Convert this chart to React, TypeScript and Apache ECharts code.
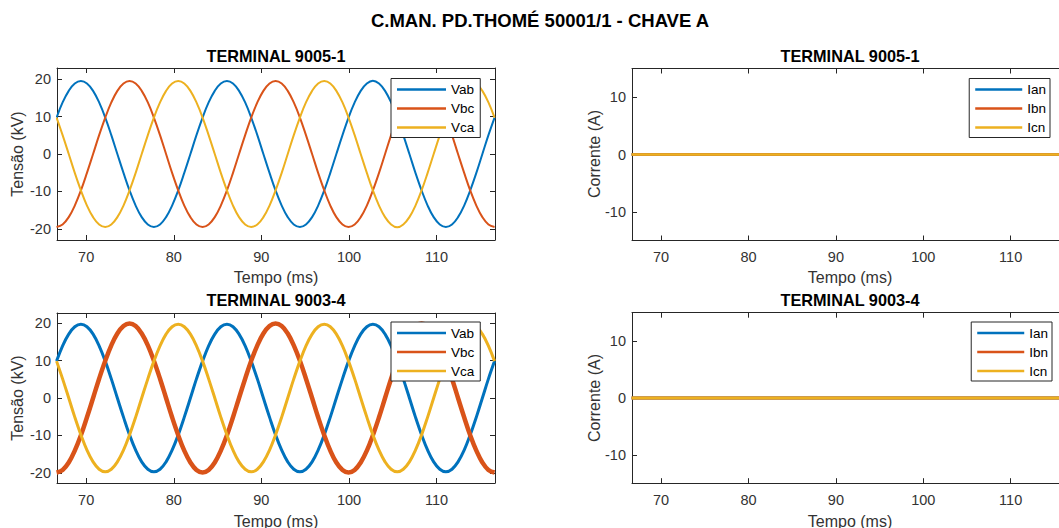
import React, { useEffect, useRef } from "react";
import * as echarts from "echarts";

// ---------- DATA ----------
const mainTitle = "C.MAN. PD.THOMÉ 50001/1 - CHAVE A";
const panelTitles = ["TERMINAL 9005-1", "TERMINAL 9005-1", "TERMINAL 9003-4", "TERMINAL 9003-4"];
const xTicks = [70, 80, 90, 100, 110];
const vTicks = [-20, -10, 0, 10, 20];
const iTicks = [-10, 0, 10];
const X_MIN = 66.67;
const X_MAX = 116.67;
// right-hand panels are cut by the figure edge: visible part ends here
const X_MAX_CUT = 115.53;

// sample times (ms)
const time = [
  66.62, 67.31, 68.01, 68.7, 69.4, 70.09, 70.79, 71.48, 72.18, 72.87, 73.56, 74.26,
  74.95, 75.65, 76.34, 77.04, 77.73, 78.43, 79.12, 79.81, 80.51, 81.2, 81.9, 82.59,
  83.29, 83.98, 84.68, 85.37, 86.07, 86.76, 87.45, 88.15, 88.84, 89.54, 90.23, 90.93,
  91.62, 92.32, 93.01, 93.7, 94.4, 95.09, 95.79, 96.48, 97.18, 97.87, 98.56, 99.26,
  99.95, 100.65, 101.34, 102.04, 102.73, 103.43, 104.12, 104.81, 105.51, 106.2, 106.9, 107.59,
  108.29, 108.98, 109.67, 110.37, 111.06, 111.76, 112.45, 113.15, 113.84, 114.54, 115.23, 115.92,
  116.62,
];

// TERMINAL 9005-1 voltages (kV)
const vab1 = [
  9.75, 13.79, 16.89, 18.84, 19.5, 18.84, 16.89, 13.79, 9.75, 5.05, 0, -5.05, -9.75, -13.79, -16.89, -18.84, -19.5, -18.84, -16.89, -13.79, -9.75, -5.05, 0, 5.05,
  9.75, 13.79, 16.89, 18.84, 19.5, 18.84, 16.89, 13.79, 9.75, 5.05, 0, -5.05, -9.75, -13.79, -16.89, -18.84, -19.5, -18.84, -16.89, -13.79, -9.75, -5.05, 0, 5.05,
  9.75, 13.79, 16.89, 18.84, 19.6, 18.84, 16.89, 13.79, 9.75, 5.05, 0, -5.05, -9.75, -13.79, -16.89, -18.84, -19.5, -18.84, -16.89, -13.79, -9.75, -5.05, 0, 5.05,
  9.75,
];
const vbc1 = [
  -19.5, -18.84, -16.89, -13.79, -9.75, -5.05, 0, 5.05, 9.75, 13.79, 16.89, 18.84, 19.5, 18.84, 16.89, 13.79, 9.75, 5.05, 0, -5.05, -9.75, -13.79, -16.89, -18.84,
  -19.5, -18.84, -16.89, -13.79, -9.75, -5.05, 0, 5.05, 9.75, 13.79, 16.89, 18.84, 19.5, 18.84, 16.89, 13.79, 9.75, 5.05, 0, -5.05, -9.75, -13.79, -16.89, -18.84,
  -19.5, -18.84, -16.89, -13.79, -9.75, -5.05, 0, 5.05, 9.75, 13.79, 16.89, 18.84, 19.5, 18.84, 16.89, 13.79, 9.75, 5.05, 0, -5.05, -9.75, -13.79, -16.89, -18.84,
  -19.5,
];
const vca1 = [
  9.75, 5.05, 0, -5.05, -9.75, -13.79, -16.89, -18.84, -19.5, -18.84, -16.89, -13.79, -9.75, -5.05, 0, 5.05, 9.75, 13.79, 16.89, 18.84, 19.5, 18.84, 16.89, 13.79,
  9.75, 5.05, 0, -5.05, -9.75, -13.79, -16.89, -18.84, -19.5, -18.84, -16.89, -13.79, -9.75, -5.05, 0, 5.05, 9.75, 13.79, 16.89, 18.84, 19.5, 18.84, 16.89, 13.79,
  9.75, 5.05, 0, -5.05, -9.75, -13.79, -16.89, -18.84, -19.6, -18.84, -16.89, -13.79, -9.75, -5.05, 0, 5.05, 9.75, 13.79, 16.89, 18.84, 19.5, 18.84, 16.89, 13.79,
  9.75,
];

// TERMINAL 9003-4 voltages (kV)
const vab2 = [
  9.85, 13.93, 17.06, 19.03, 19.7, 19.03, 17.06, 13.93, 9.85, 5.1, 0, -5.1, -9.85, -13.93, -17.06, -19.03, -19.7, -19.03, -17.06, -13.93, -9.85, -5.1, 0, 5.1,
  9.85, 13.93, 17.06, 19.03, 19.7, 19.03, 17.06, 13.93, 9.85, 5.1, 0, -5.1, -9.85, -13.93, -17.06, -19.03, -19.7, -19.03, -17.06, -13.93, -9.85, -5.1, 0, 5.1,
  9.85, 13.93, 17.06, 19.03, 19.7, 19.03, 17.06, 13.93, 9.85, 5.1, 0, -5.1, -9.85, -13.93, -17.06, -19.03, -19.7, -19.03, -17.06, -13.93, -9.85, -5.1, 0, 5.1,
  9.85,
];
const vbc2 = [
  -19.9, -19.22, -17.23, -14.07, -9.95, -5.15, 0, 5.15, 9.95, 14.07, 17.23, 19.22, 19.9, 19.22, 17.23, 14.07, 9.95, 5.15, 0, -5.15, -9.95, -14.07, -17.23, -19.22,
  -19.9, -19.22, -17.23, -14.07, -9.95, -5.15, 0, 5.15, 9.95, 14.07, 17.23, 19.22, 19.9, 19.22, 17.23, 14.07, 9.95, 5.15, 0, -5.15, -9.95, -14.07, -17.23, -19.22,
  -19.9, -19.22, -17.23, -14.07, -9.95, -5.15, 0, 5.15, 9.95, 14.07, 17.23, 19.22, 19.9, 19.22, 17.23, 14.07, 9.95, 5.15, 0, -5.15, -9.95, -14.07, -17.23, -19.22,
  -19.9,
];
const vca2 = [
  9.85, 5.1, 0, -5.1, -9.85, -13.93, -17.06, -19.03, -19.7, -19.03, -17.06, -13.93, -9.85, -5.1, 0, 5.1, 9.85, 13.93, 17.06, 19.03, 19.7, 19.03, 17.06, 13.93,
  9.85, 5.1, 0, -5.1, -9.85, -13.93, -17.06, -19.03, -19.7, -19.03, -17.06, -13.93, -9.85, -5.1, 0, 5.1, 9.85, 13.93, 17.06, 19.03, 19.7, 19.03, 17.06, 13.93,
  9.85, 5.1, 0, -5.1, -9.85, -13.93, -17.06, -19.03, -19.7, -19.03, -17.06, -13.93, -9.85, -5.1, 0, 5.1, 9.85, 13.93, 17.06, 19.03, 19.7, 19.03, 17.06, 13.93,
  9.85,
];

// currents (A) — flat zero in both terminals
const currentTime = [66.62, 116.67];
const ian1 = [0, 0];
const ibn1 = [0, 0];
const icn1 = [0, 0];
const ian2 = [0, 0];
const ibn2 = [0, 0];
const icn2 = [0, 0];

const voltNames = ["Vab", "Vbc", "Vca"];
const currNames = ["Ian", "Ibn", "Icn"];
const colors = ["#0072BD", "#D95319", "#EDB120"];

// ---------- STYLE ----------
const FONT = '"Liberation Sans", Arial, Helvetica, sans-serif';
const AX = "#262626";

function pairs(t: number[], v: number[]) {
  return t.map((x, i) => [x, v[i]]);
}

export default function App() {
  const ref = useRef<HTMLDivElement>(null);

  useEffect(() => {
    document.body.style.margin = "0";
    if (!ref.current) return;
    const chart = echarts.init(ref.current, undefined, { renderer: "svg" });

    const grids = [
      { left: 57, top: 68, width: 438, height: 172 },
      { left: 632, top: 68.5, width: 427, height: 172 },
      { left: 57, top: 313, width: 438, height: 170 },
      { left: 632, top: 312.7, width: 427, height: 170.5 },
    ];
    const xMax = [X_MAX, X_MAX_CUT, X_MAX, X_MAX_CUT];
    const showRight = [true, false, true, false];
    const yRanges = [
      [-23, 23],
      [-15, 15],
      [-22.7, 22.7],
      [-15, 15],
    ];
    const yTickSets = [vTicks, iTicks, vTicks, iTicks];

    const xAxes: any[] = [];
    const yAxes: any[] = [];
    grids.forEach((_, g) => {
      ["bottom", "top"].forEach((pos) => {
        xAxes.push({
          type: "value",
          gridIndex: g,
          position: pos,
          min: X_MIN,
          max: xMax[g],
          axisLine: { show: true, onZero: false, lineStyle: { color: AX, width: 1 } },
          axisTick: { show: true, inside: true, length: 5, customValues: xTicks, lineStyle: { color: AX } },
          axisLabel: {
            show: pos === "bottom",
            customValues: xTicks,
            margin: 9,
            fontSize: 14.5,
            color: "#333",
            fontFamily: FONT,
          },
          splitLine: { show: false },
        });
      });
      ["left", "right"].forEach((pos) => {
        const visible = pos === "left" || showRight[g];
        yAxes.push({
          type: "value",
          gridIndex: g,
          position: pos,
          min: yRanges[g][0],
          max: yRanges[g][1],
          axisLine: { show: visible, onZero: false, lineStyle: { color: AX, width: 1 } },
          axisTick: {
            show: visible,
            inside: true,
            length: 5,
            customValues: yTickSets[g],
            lineStyle: { color: AX },
          },
          axisLabel: {
            show: pos === "left",
            customValues: yTickSets[g],
            margin: 6,
            fontSize: 14.5,
            color: "#333",
            fontFamily: FONT,
          },
          splitLine: { show: false },
        });
      });
    });

    const mk = (g: number, name: string, color: string, t: number[], v: number[], width: number) => ({
      type: "line",
      name,
      xAxisIndex: 2 * g,
      yAxisIndex: 2 * g,
      data: pairs(t, v),
      color,
      symbol: "none",
      showSymbol: false,
      smooth: 0.4,
      clip: true,
      lineStyle: { width, color },
      emphasis: { disabled: true },
    });

    const series = [
      mk(0, "Vab", colors[0], time, vab1, 2),
      mk(0, "Vbc", colors[1], time, vbc1, 2),
      mk(0, "Vca", colors[2], time, vca1, 2),
      mk(1, "Ian", colors[0], currentTime, ian1, 2.5),
      mk(1, "Ibn", colors[1], currentTime, ibn1, 2.5),
      mk(1, "Icn", colors[2], currentTime, icn1, 2.5),
      mk(2, "Vab", colors[0], time, vab2, 3),
      mk(2, "Vbc", colors[1], time, vbc2, 4.5),
      mk(2, "Vca", colors[2], time, vca2, 3),
      mk(3, "Ian", colors[0], currentTime, ian2, 3),
      mk(3, "Ibn", colors[1], currentTime, ibn2, 3),
      mk(3, "Icn", colors[2], currentTime, icn2, 3),
    ];

    const legendBase = {
      orient: "vertical",
      icon: "rect",
      itemHeight: 2.5,
      itemGap: 5,
      padding: [4, 6, 3, 6],
      backgroundColor: "#fff",
      borderColor: AX,
      borderWidth: 1,
      borderRadius: 0,
      selectedMode: false,
      textStyle: { fontSize: 13.5, color: "#000", fontFamily: FONT, lineHeight: 14 },
      z: 10,
    };
    const legends = [
      { ...legendBase, left: 391, top: 78.5, itemWidth: 49, data: voltNames },
      { ...legendBase, right: 9, top: 78.5, itemWidth: 47, padding: [4, 4, 3, 6], data: currNames },
      { ...legendBase, left: 391, top: 322, itemWidth: 49, data: voltNames },
      { ...legendBase, right: 7, top: 322, itemWidth: 47, padding: [4, 4, 3, 6], data: currNames },
    ];

    const centersX = [276, 850, 276, 850];
    const titleY = [56, 56, 300, 300];
    const xLabelY = [277, 277, 521, 521];
    const yLabelX = [17.5, 594, 17.5, 594];
    const yLabelY = [154, 154, 398, 398];
    const yLabelText = ["Tensão (kV)", "Corrente (A)", "Tensão (kV)", "Corrente (A)"];

    const elements: any[] = [
      {
        type: "text",
        x: 540,
        y: 20,
        style: {
          text: mainTitle,
          fontSize: 18.5,
          fontWeight: "bold",
          fontFamily: FONT,
          fill: "#000",
          textAlign: "center",
          textVerticalAlign: "middle",
        },
      },
    ];
    for (let g = 0; g < 4; g++) {
      elements.push({
        type: "text",
        x: centersX[g],
        y: titleY[g],
        style: {
          text: panelTitles[g],
          fontSize: 16.3,
          fontWeight: "bold",
          fontFamily: FONT,
          fill: "#000",
          textAlign: "center",
          textVerticalAlign: "middle",
        },
      });
      elements.push({
        type: "text",
        x: centersX[g],
        y: xLabelY[g],
        style: {
          text: "Tempo (ms)",
          fontSize: 16,
          fontFamily: FONT,
          fill: "#333",
          textAlign: "center",
          textVerticalAlign: "middle",
        },
      });
      elements.push({
        type: "text",
        x: yLabelX[g],
        y: yLabelY[g],
        rotation: Math.PI / 2,
        style: {
          text: yLabelText[g],
          fontSize: 16,
          fontFamily: FONT,
          fill: "#333",
          textAlign: "center",
          textVerticalAlign: "middle",
        },
      });
    }

    chart.setOption({
      animation: false,
      backgroundColor: "#fff",
      grid: grids.map((g) => ({ ...g, containLabel: false })),
      xAxis: xAxes,
      yAxis: yAxes,
      legend: legends,
      series,
      graphic: { elements },
    });

    return () => chart.dispose();
  }, []);

  return (
    <div
      ref={ref}
      style={{ position: "absolute", left: 0, top: 0, width: 1059, height: 528, overflow: "hidden" }}
    />
  );
}
